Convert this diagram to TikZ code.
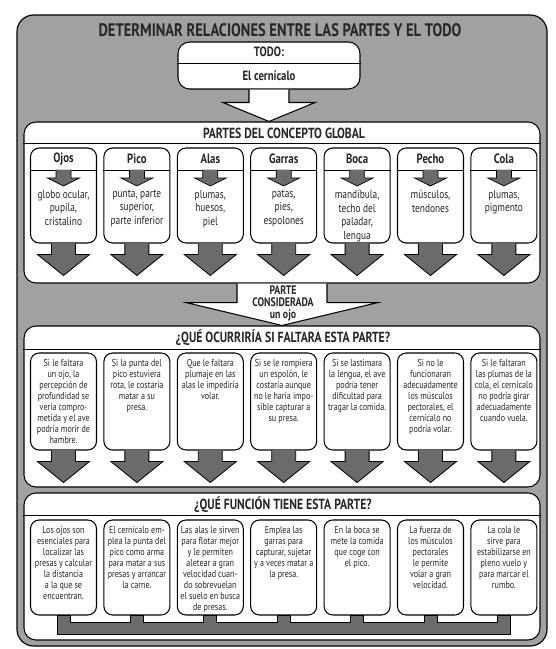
\documentclass[tikz,border=0pt]{standalone}
\usepackage{fontspec}
\setmainfont{PT Sans}[FakeStretch=0.8]
\usepackage{tikz}
\usetikzlibrary{positioning, calc}

\begin{document}
\begin{tikzpicture}[
    x=0.3mm, y=-0.3mm,
    panel/.style={rectangle, rounded corners=3.6mm, draw=black, line width=0.9pt, fill=white, minimum width=154.8mm, inner sep=0pt},
    box/.style={rectangle, rounded corners=2.6mm, draw=black, line width=0.9pt, fill=white, minimum width=19.8mm, inner sep=0pt},
    titulo/.style={font=\bfseries\fontsize{12.5}{14}\selectfont, text=black!85},
    parte/.style={font=\bfseries\fontsize{11.5}{13}\selectfont, text=black!85},
    texto/.style={align=center, inner sep=0pt, font=\fontsize{10}{11.5}\selectfont, text=black!85},
    textop/.style={align=center, inner sep=0pt, font=\fontsize{8.6}{9.4}\selectfont, text=black!85},
    flecha/.style={fill=black!58, draw=black, line width=0.7pt},
    blanca/.style={fill=white, draw=black, line width=0.9pt},
    chica/.pic={
      \fill[black!58] (-7.5,-0.5) -- (-7.5,8) -- (-16,8) -- (0,16) -- (16,8) -- (7.5,8) -- (7.5,-0.5) -- cycle;
      \draw[line width=0.6pt] (-7.5,0) -- (-7.5,8) -- (-16,8) -- (0,16) -- (16,8) -- (7.5,8) -- (7.5,0);
    },
    grande/.pic={
      \fill[black!58] (-12,-0.5) -- (-12,11) -- (-26,11) -- (0,32) -- (26,11) -- (12,11) -- (12,-0.5) -- cycle;
      \draw[line width=0.7pt] (-12,0) -- (-12,11) -- (-26,11) -- (0,32) -- (26,11) -- (12,11) -- (12,0);
    }
]
\useasboundingbox (0,0) rectangle (555,649);

% marco general
\draw[line width=1pt, fill=black!37, rounded corners=5mm] (17,15) rectangle (547,646);
\node[font=\bfseries\fontsize{15.5}{17}\selectfont, text=black!85] (titulo) at (280,30) {DETERMINAR RELACIONES ENTRE LAS PARTES Y EL TODO};

% todo
\node[box, minimum width=54.6mm, minimum height=14.1mm, rounded corners=3.5mm] (todo) at (269,65.5) {};
\draw[line width=0.7pt] (todo.west |- 0,63) -- (todo.east |- 0,63);
\node[parte] (todoA) at (269,52) {TODO:};
\node[parte] (todoB) at (269,76) {El cernícalo};

% partes del concepto global
\node[panel, minimum height=48.3mm] (p2) at (282,202.5) {};
\draw[line width=0.7pt] (p2.west |- 0,143) -- (p2.east |- 0,143);
\node[titulo] (p2t) at (284,133) {PARTES DEL CONCEPTO GLOBAL};

\draw[blanca] ($(todo.south)+(-20,0)$) -- ($(todo.south)+(-20,13)$) -- ($(todo.south)+(-46,13)$)
  -- (todo.south |- p2.north) -- ($(todo.south)+(46,13)$) -- ($(todo.south)+(20,13)$) -- ($(todo.south)+(20,0)$);

\foreach \i/\x/\nom/\txt in {
    1/63.5/Ojos/{globo ocular,\\pupila,\\cristalino},
    2/136.9/Pico/{punta, parte\\superior,\\parte inferior},
    3/210.3/Alas/{plumas,\\huesos,\\piel},
    4/283.7/Garras/{patas,\\pies,\\espolones},
    5/357.1/Boca/{mandíbula,\\techo del\\paladar,\\lengua},
    6/430.5/Pecho/{músculos,\\tendones},
    7/503.9/Cola/{plumas,\\pigmento}} {
  \node[box, minimum height=28.5mm] (a\i) at (\x,195.5) {};
  \draw[line width=0.7pt] (a\i.west |- 0,170) -- (a\i.east |- 0,170);
  \node[parte] (n\i) at (\x,159) {\nom};
  \pic at (\x,170) {chica};
  \node[texto, anchor=north] (t\i) at (\x,190) {\txt};
  \pic at (a\i.south) {grande};
}

% que ocurriria
\node[panel, minimum height=48.3mm] (p3) at (282,406.5) {};
\draw[line width=0.7pt] (p3.west |- 0,349) -- (p3.east |- 0,349);
\node[titulo] (p3t) at (283,338) {¿QUÉ OCURRIRÍA SI FALTARA ESTA PARTE?};

\draw[blanca] ($(p2.south)+(-45,0)$) -- ($(p2.south)+(-45,19)$) -- ($(p2.south)+(-96,19)$)
  -- (p3.north) -- ($(p2.south)+(96,19)$) -- ($(p2.south)+(45,19)$) -- ($(p2.south)+(45,0)$);
\node[align=center, inner sep=0pt, font=\bfseries\fontsize{10.5}{10.5}\selectfont, text=black!85] (parte) at (283,303.5) {PARTE\\CONSIDERADA\\un ojo};

\foreach \i/\x/\txt in {
    1/63.5/{Si le faltara\\un ojo, la\\percepción de\\profundidad se\\vería compro-\\metida y el ave\\podría morir de\\hambre.},
    2/136.9/{Si la punta del\\pico estuviera\\rota, le costaría\\matar a su\\presa.},
    3/210.3/{Que le faltara\\plumaje en las\\alas le impediría\\volar.},
    4/283.7/{Si se le rompiera\\un espolón, le\\costaría aunque\\no le haría impo-\\sible capturar a\\su presa.},
    5/357.1/{Si se lastimara\\la lengua, el ave\\podría tener\\dificultad para\\tragar la comida.},
    6/430.5/{Si no le\\funcionaran\\adecuadamente\\los músculos\\pectorales, el\\cernícalo no\\podría volar.},
    7/503.9/{Si le faltaran\\las plumas de la\\cola, el cernícalo\\no podría girar\\adecuadamente\\cuando vuela.}} {
  \node[box, minimum height=29.1mm] (b\i) at (\x,401.5) {};
  \node[textop, anchor=north] (u\i) at (\x,359) {\txt};
  \pic at (b\i.south) {grande};
}

% que funcion tiene
\node[panel, minimum height=44.1mm] (p4) at (282,566.5) {};
\draw[line width=0.7pt] (p4.west |- 0,515) -- (p4.east |- 0,515);
\node[titulo] (p4t) at (283,505) {¿QUÉ FUNCIÓN TIENE ESTA PARTE?};

\foreach \i/\x/\txt in {
    1/63.5/{Los ojos son\\esenciales para\\localizar las\\presas y calcular\\la distancia\\a la que se\\encuentran.},
    2/136.9/{El cernícalo em-\\plea la punta del\\pico como arma\\para matar a sus\\presas y arrancar\\la carne.},
    3/210.3/{Las alas le sirven\\para flotar mejor\\y le permiten\\aletear a gran\\velocidad cuan-\\do sobrevuelan\\el suelo en busca\\de presas.},
    4/283.7/{Emplea las\\garras para\\capturar, sujetar\\y a veces matar a\\la presa.},
    5/357.1/{En la boca se\\mete la comida\\que coge con\\el pico.},
    6/430.5/{La fuerza de\\los músculos\\pectorales\\le permite\\volar a gran\\velocidad.},
    7/503.9/{La cola le\\sirve para\\estabilizarse en\\pleno vuelo y\\para marcar el\\rumbo.}} {
  \node[box, minimum height=28.5mm] (c\i) at (\x,567.5) {};
  \node[textop, anchor=north] (v\i) at (\x,526) {\txt};
}

% peine inferior
\draw[flecha] ($(c1.south)+(-6.5,0)$) -- ($(c1.south)+(-6.5,19)$) -- ($(c7.south)+(6.5,19)$) -- ($(c7.south)+(6.5,0)$)
  \foreach \i [evaluate=\i as \j using int(\i-1)] in {7,...,2} {
    -- ($(c\i.south)+(-6.5,0)$) -- ($(c\i.south)+(-6.5,7)$) -- ($(c\j.south)+(6.5,7)$) -- ($(c\j.south)+(6.5,0)$)
  } -- cycle;

\end{tikzpicture}
\end{document}
